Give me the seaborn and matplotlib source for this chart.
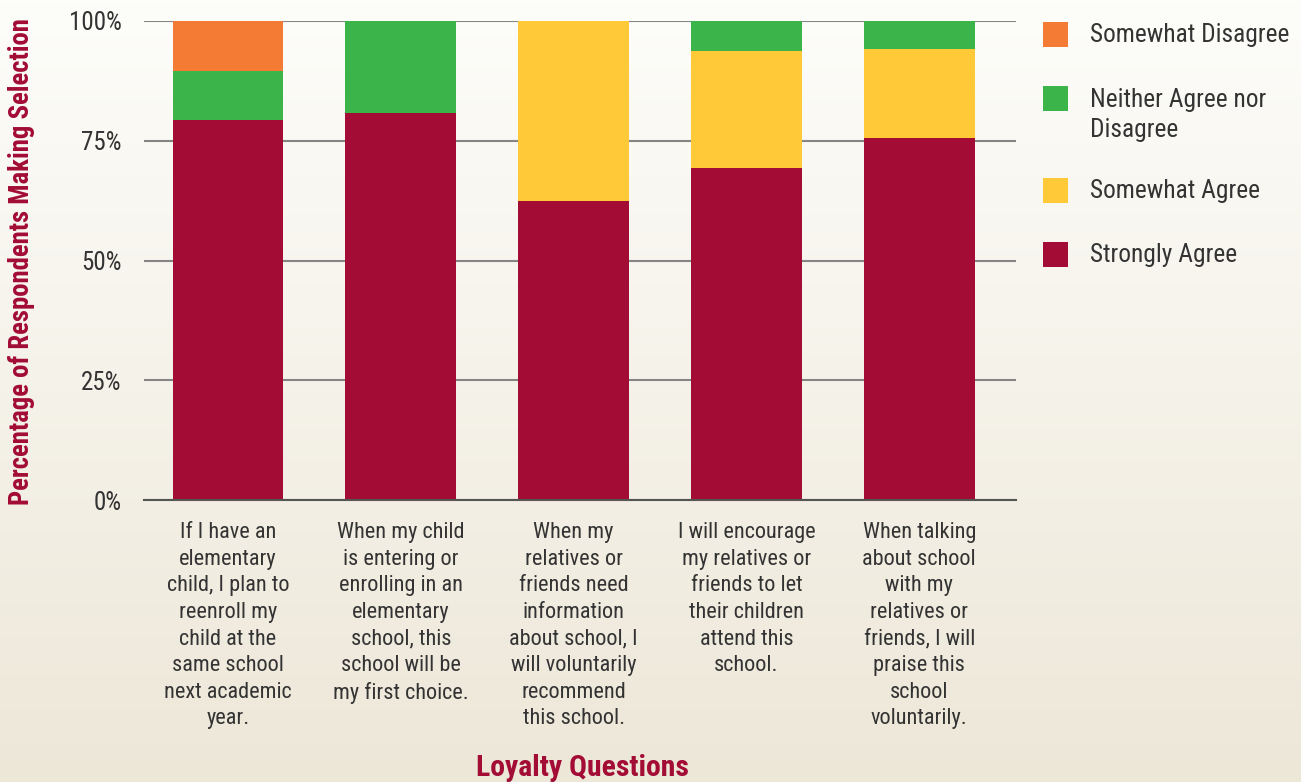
import numpy as np
import pandas as pd
import matplotlib
matplotlib.use("Agg")
import matplotlib.pyplot as plt
from matplotlib.patches import Rectangle
import seaborn as sns

categories = [
    "If I have an\nelementary\nchild, I plan to\nreenroll my\nchild at the\nsame school\nnext academic\nyear.",
    "When my child\nis entering or\nenrolling in an\nelementary\nschool, this\nschool will be\nmy first choice.",
    "When my\nrelatives or\nfriends need\ninformation\nabout school, I\nwill voluntarily\nrecommend\nthis school.",
    "I will encourage\nmy relatives or\nfriends to let\ntheir children\nattend this\nschool.",
    "When talking\nabout school\nwith my\nrelatives or\nfriends, I will\npraise this\nschool\nvoluntarily.",
]
strongly_agree = [79.3, 80.8, 62.4, 69.3, 75.6]
somewhat_agree = [0.0, 0.0, 37.6, 24.4, 18.6]
neither = [10.3, 19.2, 0.0, 6.3, 5.8]
somewhat_disagree = [10.4, 0.0, 0.0, 0.0, 0.0]

series_names = ["Strongly Agree", "Somewhat Agree", "Neither Agree nor\nDisagree", "Somewhat Disagree"]
series_vals = [strongly_agree, somewhat_agree, neither, somewhat_disagree]
colors = ["#A20C35", "#FFC938", "#3BB54A", "#F47B33"]

sns.set_theme(style="white")
plt.rcParams['font.family'] = ['Liberation Sans Narrow', 'Roboto Condensed', 'DejaVu Sans']

W, H = 1301, 782
fig = plt.figure(figsize=(W / 100, H / 100), dpi=100)

# background gradient
bg = fig.add_axes([0, 0, 1, 1], zorder=-10)
top = np.array([253, 253, 250]) / 255
bot = np.array([237, 231, 216]) / 255
t = np.linspace(0, 1, 256)[:, None]
grad = top[None, :] * (1 - t) + bot[None, :] * t
bg.imshow(grad[:, None, :], aspect='auto', extent=[0, 1, 0, 1])
bg.axis('off')

ax = fig.add_axes([144 / W, 1 - 500 / H, (1016 - 144) / W, (500 - 21) / H])
ax.set_facecolor('none')

cum = np.cumsum(np.array(series_vals), axis=0)
xidx = list(range(len(categories)))
for i in range(len(series_vals) - 1, -1, -1):
    df = pd.DataFrame({"q": xidx, "v": cum[i]})
    sns.barplot(data=df, x="q", y="v", color=colors[i], width=0.64,
                saturation=1, ax=ax, zorder=3, linewidth=0)

ax.set_ylim(0, 100)
ax.set_xlim(-0.486, 4.56)
ax.set_yticks([0, 25, 50, 75, 100])
ax.set_yticklabels(["0%", "25%", "50%", "75%", "100%"])
ax.set_xticks(xidx)
ax.set_xticklabels(categories, linespacing=1.35)
ax.tick_params(axis='y', length=0, pad=16, labelsize=18, labelcolor="#333333")
ax.tick_params(axis='x', length=0, pad=16, labelsize=16, labelcolor="#333333")
ax.yaxis.grid(True, color="#858585", linewidth=1.5, zorder=0)
ax.xaxis.grid(False)
for s in ["top", "right", "left"]:
    ax.spines[s].set_visible(False)
ax.spines["bottom"].set_color("#555555")
ax.spines["bottom"].set_linewidth(1.5)
ax.spines["bottom"].set_zorder(4)

ax.set_xlabel("")
ax.set_ylabel("")
fig.text(22 / W, 1 - 262 / H, "Percentage of Respondents Making Selection",
         rotation=90, ha='center', va='center', fontsize=19.3, fontweight='bold', color="#A20C35")
fig.text(582 / W, 1 - 768 / H, "Loyalty Questions", ha='center', va='center',
         fontsize=21.4, fontweight='bold', color="#A20C35")

# legend (manual layout)
leg_order = [3, 2, 1, 0]
sq_tops = [22, 86, 178, 242]
for i, y0 in zip(leg_order, sq_tops):
    fig.patches.append(Rectangle((1043 / W, 1 - (y0 + 25) / H), 25 / W, 25 / H,
                                 transform=fig.transFigure, facecolor=colors[i],
                                 edgecolor='none'))
    if '\n' in series_names[i]:
        fig.text(1090 / W, 1 - (y0 + 2) / H, series_names[i], ha='left', va='top',
                 fontsize=18.3, color="#333333", linespacing=1.3)
    else:
        fig.text(1090 / W, 1 - (y0 + 13) / H, series_names[i], ha='left', va='center',
                 fontsize=18.3, color="#333333")

fig.savefig("out.png", dpi=100)
